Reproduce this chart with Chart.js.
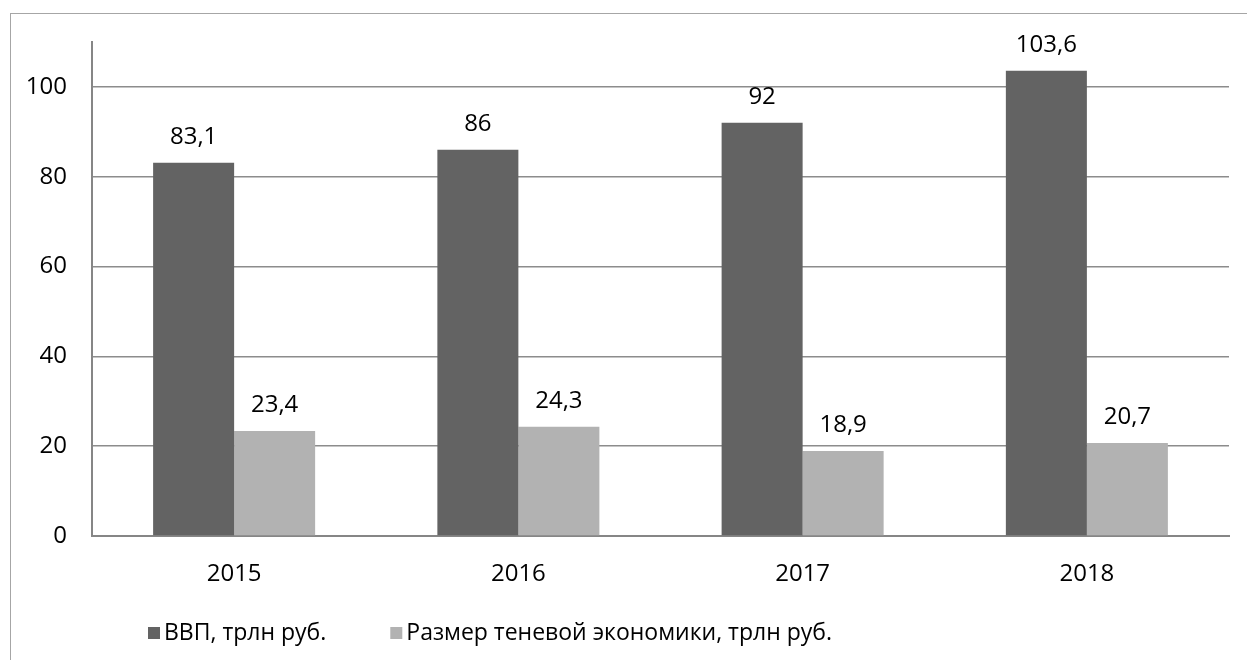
<!DOCTYPE html>
<html>
<head>
<meta charset="utf-8">
<script src="https://cdn.jsdelivr.net/npm/chart.js@4.4.1/dist/chart.umd.min.js"></script>
<style>
  html, body { margin: 0; padding: 0; background: #fff; }
  .frame { position: absolute; left: 10px; top: 13px; width: 1300px; height: 700px;
           border-left: 1.5px solid #a6a6a6; border-top: 1.5px solid #a6a6a6; }
  .wrap { position: absolute; left: 0; top: 0; width: 1247px; height: 660px; }
</style>
</head>
<body>
<div class="frame"></div>
<div class="wrap"><canvas class="canva1" width="1247" height="660"></canvas></div>
<script>
let years = [`2015`, `2016`, `2017`, `2018`];
let gdp = [83.1, 86, 92, 103.6];
let shadow = [23.4, 24.3, 18.9, 20.7];
let yTicks = [0, 20, 40, 60, 80, 100];

let font = `'Open Sans', sans-serif`;

// value labels above each bar, written with a comma like the original
let barValues = {
    id: `barValues`,
    afterDatasetsDraw(chart) {
        let ctx = chart.ctx;
        ctx.save();
        ctx.font = `24px ${font}`;
        ctx.fillStyle = `#000`;
        ctx.textAlign = `center`;
        ctx.textBaseline = `alphabetic`;
        chart.data.datasets.forEach((ds, i) => {
            chart.getDatasetMeta(i).data.forEach((bar, j) => {
                ctx.fillText(String(ds.data[j]).replace(`.`, `,`), bar.x, bar.y - 19);
            });
        });
        ctx.restore();
    }
};

// legend at the bottom-left like the Excel one
let bottomLegend = {
    id: `bottomLegend`,
    afterDraw(chart) {
        let ctx = chart.ctx;
        ctx.save();
        ctx.font = `23px ${font}`;
        ctx.textBaseline = `middle`;
        let x = 148, y = 633;
        chart.data.datasets.forEach((ds) => {
            ctx.fillStyle = ds.backgroundColor;
            ctx.fillRect(x, y - 6, 12, 12);
            ctx.fillStyle = `#000`;
            ctx.fillText(ds.label, x + 16, y);
            x += 16 + ctx.measureText(ds.label).width + 64;
        });
        ctx.restore();
    }
};

let canva1 = document.querySelector(`.canva1`);

new Chart(canva1, {
    type: `bar`,
    data: {
        labels: years,
        datasets: [
            {
                label: `ВВП, трлн руб.`,
                data: gdp,
                backgroundColor: `#636363`,
            },
            {
                label: `Размер теневой экономики, трлн руб.`,
                data: shadow,
                backgroundColor: `#b2b2b2`,
            }
        ]
    },
    options: {
        responsive: false,
        animation: false,
        layout: { padding: { left: 10, top: 42, right: 18, bottom: 0 } },
        datasets: { bar: { categoryPercentage: 0.57, barPercentage: 1.0 } },
        plugins: {
            legend: { display: false },
            tooltip: { enabled: false }
        },
        scales: {
            x: {
                grid: { display: false, drawTicks: false },
                border: { color: `#868686`, width: 2 },
                ticks: { color: `#000`, padding: 24, font: { family: font, size: 24 } },
                afterFit(s) { s.height = 124; }
            },
            y: {
                min: 0,
                max: 110,
                afterBuildTicks(s) { s.ticks = yTicks.map(v => ({ value: v })); },
                grid: { color: `#8c8c8c`, lineWidth: 1.5, drawTicks: false },
                border: { color: `#868686`, width: 2 },
                ticks: { color: `#000`, padding: 25, font: { family: font, size: 24 } },
                afterFit(s) { s.width = 82; }
            }
        }
    },
    plugins: [barValues, bottomLegend]
});
</script>
</body>
</html>
